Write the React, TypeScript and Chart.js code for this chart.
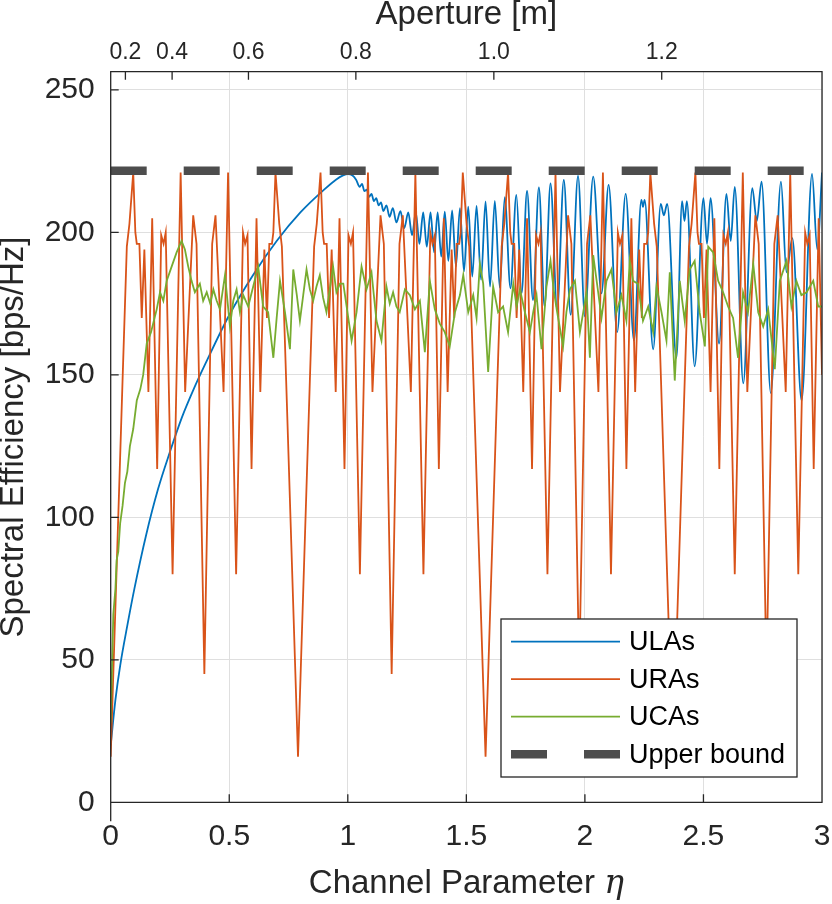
import { useEffect, useRef } from "react";
import { Chart, registerables } from "chart.js";

Chart.register(...registerables);

const FONT = '"Liberation Sans", Arial, Helvetica, sans-serif';
const AXIS = "#262626";
const GRID = "#dfdfdf";

// ULAs (blue)
const ulaEta = [
  0, 0.02, 0.04, 0.07, 0.1, 0.15, 0.2, 0.25, 0.3, 0.35, 0.4, 0.5, 0.6, 0.7, 0.8, 0.9, 0.95,
  0.98, 1.0, 1.02, 1.035, 1.05, 1.06, 1.07, 1.08, 1.09, 1.1, 1.11, 1.12, 1.13, 1.14, 1.15, 1.163, 1.176, 1.19,
  1.205, 1.222, 1.238, 1.255, 1.271, 1.287, 1.302, 1.318, 1.333, 1.349, 1.364, 1.379, 1.394, 1.409, 1.424, 1.44,
  1.456, 1.473, 1.49, 1.508, 1.525, 1.543, 1.562, 1.581, 1.6, 1.62, 1.641, 1.662, 1.686, 1.711, 1.733, 1.756,
  1.781, 1.806, 1.83, 1.855, 1.883, 1.911, 1.94, 1.971, 2.0, 2.035, 2.07, 2.1, 2.136, 2.172, 2.207, 2.238, 2.245,
  2.252, 2.288, 2.32, 2.333, 2.347, 2.386, 2.41, 2.42, 2.43, 2.463, 2.5, 2.515, 2.53, 2.566, 2.597, 2.615, 2.632,
  2.668, 2.706, 2.725, 2.745, 2.784, 2.827, 2.85, 2.875, 2.914, 2.958, 2.98, 3.0,
];
const ulaSE = [
  20, 36, 48, 62, 75, 94, 110, 123, 135, 145, 154, 171, 185, 197, 207, 215, 218.5,
  220, 220.5, 220, 218.5, 216, 217, 214.5, 215, 212.5, 213.5, 211, 212, 209.5, 210.5, 207.5, 209.5, 205.5, 208.5,
  203.5, 207.5, 201.5, 207, 199, 207, 196, 207, 195, 207, 193, 207, 191.5, 207.3, 190, 207.7,
  188, 208.5, 186.3, 209, 184.5, 209.3, 183.4, 210.9, 181, 211.1, 180.6, 212.4, 180.4, 213.2, 178.7, 214.6,
  176.3, 215.8, 174, 217.2, 172.8, 218.4, 171.1, 219.8, 170.5, 219.6, 178.6, 216.7, 165, 213.5, 162, 211.4, 209,
  211.4, 159, 210, 206, 210, 156, 211, 204, 211, 153, 212, 196, 212, 161, 213.5, 197, 216,
  147, 215.5, 204, 217.8, 143.6, 217.8, 186, 198, 141, 220.5, 194, 221,
];

// URAs (orange)
const uraEta = [
  0, 0.05, 0.068, 0.079, 0.095, 0.104, 0.11, 0.121, 0.131, 0.142, 0.159, 0.175, 0.196, 0.213, 0.223, 0.232, 0.261, 0.295, 0.314, 0.348, 0.362,
  0.395, 0.428, 0.442, 0.476, 0.495, 0.529, 0.558, 0.567, 0.577, 0.594, 0.615, 0.631, 0.648, 0.659, 0.669, 0.68, 0.686, 0.695, 0.711, 0.722, 0.74,
  0.79, 0.84, 0.858, 0.869, 0.885, 0.894, 0.9, 0.911, 0.921, 0.932, 0.949, 0.965, 0.986, 1.003, 1.013, 1.022, 1.051, 1.085, 1.104, 1.138, 1.152,
  1.185, 1.218, 1.232, 1.266, 1.285, 1.319, 1.348, 1.357, 1.367, 1.384, 1.405, 1.421, 1.438, 1.449, 1.459, 1.47, 1.476, 1.485, 1.501, 1.512, 1.53,
  1.581, 1.631, 1.649, 1.66, 1.676, 1.685, 1.691, 1.702, 1.712, 1.723, 1.74, 1.756, 1.777, 1.794, 1.804, 1.813, 1.842, 1.876, 1.895, 1.929, 1.943,
  1.976, 2.009, 2.023, 2.057, 2.076, 2.11, 2.139, 2.148, 2.158, 2.175, 2.196, 2.212, 2.229, 2.24, 2.25, 2.261, 2.267, 2.276, 2.292, 2.303, 2.321,
  2.371, 2.421, 2.439, 2.45, 2.466, 2.475, 2.481, 2.492, 2.502, 2.513, 2.53, 2.546, 2.567, 2.584, 2.594, 2.603, 2.632, 2.666, 2.685, 2.719, 2.733,
  2.766, 2.799, 2.813, 2.847, 2.866, 2.9, 2.929, 2.938, 2.948, 2.965, 2.986, 3.0,
];
const uraSE = [
  16, 148, 195, 203, 221, 200, 196, 196, 170, 194, 144, 205, 117, 199, 196, 200, 80, 221, 144, 206, 196,
  45, 196, 206, 144, 221, 80, 200, 196, 199, 117, 205, 144, 194, 170, 196, 196, 200, 221, 203, 195, 148,
  16, 148, 195, 203, 221, 200, 196, 196, 170, 194, 144, 205, 117, 199, 196, 200, 80, 221, 144, 206, 196,
  45, 196, 206, 144, 221, 80, 200, 196, 199, 117, 205, 144, 194, 170, 196, 196, 200, 221, 203, 195, 148,
  16, 148, 195, 203, 221, 200, 196, 196, 170, 194, 144, 205, 117, 199, 196, 200, 80, 221, 144, 206, 196,
  45, 196, 206, 144, 221, 80, 200, 196, 199, 117, 205, 144, 194, 170, 196, 196, 200, 221, 203, 195, 148,
  16, 148, 195, 203, 221, 200, 196, 196, 170, 194, 144, 205, 117, 199, 196, 200, 80, 221, 144, 206, 196,
  45, 196, 206, 144, 221, 80, 200, 196, 199, 117, 205, 150,
];

// UCAs (green)
const ucaEta = [
  0, 0.005, 0.011, 0.02, 0.025, 0.032, 0.04, 0.05, 0.06, 0.07, 0.081, 0.095, 0.11, 0.125, 0.137, 0.152, 0.17, 0.194,
  0.208, 0.222, 0.236, 0.257, 0.278, 0.299, 0.313, 0.327, 0.341, 0.355, 0.376, 0.39, 0.405, 0.42, 0.433, 0.447, 0.461,
  0.482, 0.503, 0.517, 0.531, 0.545, 0.559, 0.58, 0.601, 0.622, 0.643, 0.664, 0.686, 0.7, 0.714, 0.735, 0.756, 0.77,
  0.785, 0.798, 0.812, 0.826, 0.84, 0.854, 0.868, 0.882, 0.896, 0.91, 0.924, 0.938, 0.952, 0.967, 0.981, 0.995, 1.016,
  1.037, 1.058, 1.079, 1.1, 1.121, 1.142, 1.163, 1.177, 1.191, 1.205, 1.219, 1.241, 1.262, 1.283, 1.304, 1.325, 1.346,
  1.367, 1.388, 1.409, 1.43, 1.452, 1.473, 1.487, 1.508, 1.529, 1.543, 1.557, 1.571, 1.592, 1.613, 1.634, 1.655, 1.676,
  1.698, 1.712, 1.726, 1.747, 1.768, 1.782, 1.796, 1.817, 1.838, 1.855, 1.868, 1.881, 1.908, 1.922, 1.937, 1.958, 1.979,
  1.993, 2.007, 2.021, 2.035, 2.056, 2.07, 2.091, 2.112, 2.133, 2.154, 2.175, 2.189, 2.203, 2.224, 2.245, 2.267, 2.288,
  2.302, 2.323, 2.344, 2.358, 2.379, 2.4, 2.421, 2.442, 2.463, 2.484, 2.506, 2.52, 2.541, 2.562, 2.583, 2.604, 2.625,
  2.646, 2.667, 2.688, 2.71, 2.731, 2.752, 2.773, 2.801, 2.822, 2.85, 2.871, 2.892, 2.913, 2.935, 2.963, 2.984, 3.0,
];
const ucaSE = [
  28, 45, 66, 75, 85, 88, 98, 104, 112, 116, 125, 131, 141, 145, 150, 161, 165, 173,
  179, 176, 183, 188, 193, 197, 194, 188, 183, 179, 182, 176, 179, 175, 180, 176, 173,
  185, 167, 176, 180, 172, 178, 174, 181, 188, 174, 172, 156, 170, 183, 172, 159, 187,
  178, 169, 178, 187, 180, 176, 181, 185, 177, 172, 180, 188, 179, 182, 182, 174, 162,
  172, 188, 180, 186, 169, 162, 181, 175, 179, 174, 172, 180, 178, 173, 176, 158, 183,
  173, 168, 165, 160, 172, 178, 185, 172, 178, 170, 189, 182, 151, 181, 172, 174, 165,
  182, 174, 180, 172, 165, 172, 178, 159, 181, 190, 180, 173, 160, 172, 180, 183, 165,
  172, 179, 156, 192, 179, 170, 183, 187, 172, 178, 169, 190, 183, 182, 169, 174, 165,
  181, 172, 162, 186, 148, 183, 169, 187, 190, 172, 160, 195, 193, 183, 179, 174, 170,
  156, 179, 172, 189, 172, 167, 173, 152, 183, 190, 174, 183, 178, 179, 183, 174, 174,
];

const upperBound = 221.6;

// top axis: aperture tick labels and where they sit on the eta axis
const apertureLabels = ["0.2", "0.4", "0.6", "0.8", "1.0", "1.2"];
const apertureEta = [0.062, 0.259, 0.581, 1.034, 1.616, 2.324];

const toXY = (xs: number[], ys: number[]) => xs.map((x, i) => ({ x, y: ys[i] }));

const framePlugin = {
  id: "matlabFrame",
  afterDatasetsDraw(chart: any) {
    const { ctx, chartArea: a, scales } = chart;
    ctx.save();
    ctx.strokeStyle = AXIS;
    ctx.lineWidth = 1.3;
    ctx.beginPath();
    ctx.rect(a.left, a.top, a.right - a.left, a.bottom - a.top);
    ctx.moveTo(a.left, a.bottom);
    ctx.lineTo(a.left, a.bottom + 19);
    for (const t of scales.x.ticks) {
      const p = scales.x.getPixelForValue(t.value);
      ctx.moveTo(p, a.bottom);
      ctx.lineTo(p, a.bottom - 8);
    }
    for (const t of scales.x2.ticks) {
      const p = scales.x2.getPixelForValue(t.value);
      ctx.moveTo(p, a.top);
      ctx.lineTo(p, a.top + 8);
    }
    for (const t of scales.y.ticks) {
      const p = scales.y.getPixelForValue(t.value);
      ctx.moveTo(a.left, p);
      ctx.lineTo(a.left + 8, p);
    }
    ctx.stroke();
    ctx.restore();
  },
};

// x title with an italic eta, like the TeX label in the original
const xTitlePlugin = {
  id: "xTitle",
  afterDraw(chart: any) {
    const { ctx, chartArea: a } = chart;
    const main = "Channel Parameter ";
    const sym = "η";
    ctx.save();
    ctx.fillStyle = AXIS;
    ctx.textBaseline = "alphabetic";
    ctx.textAlign = "left";
    ctx.font = `33px ${FONT}`;
    const w1 = ctx.measureText(main).width;
    ctx.font = `italic 33px "DejaVu Serif", "Liberation Serif", serif`;
    const w2 = ctx.measureText(sym).width;
    const x0 = (a.left + a.right) / 2 - (w1 + w2) / 2;
    const y = a.bottom + 91;
    ctx.font = `33px ${FONT}`;
    ctx.fillText(main, x0, y);
    ctx.font = `italic 33px "DejaVu Serif", "Liberation Serif", serif`;
    ctx.fillText(sym, x0 + w1, y);
    ctx.restore();
  },
};

const legendPlugin = {
  id: "boxLegend",
  afterDraw(chart: any) {
    const { ctx, chartArea: a } = chart;
    const right = a.right - 25;
    const bottom = a.bottom - 25.3;
    const left = right - 296;
    const top = bottom - 158;
    ctx.save();
    ctx.fillStyle = "#ffffff";
    ctx.fillRect(left, top, right - left, bottom - top);
    ctx.strokeStyle = AXIS;
    ctx.lineWidth = 1.3;
    ctx.strokeRect(left, top, right - left, bottom - top);
    chart.data.datasets.forEach((ds: any, i: number) => {
      const y = top + 22.7 + i * 37.5;
      ctx.beginPath();
      ctx.strokeStyle = ds.borderColor;
      ctx.lineWidth = ds.borderWidth;
      ctx.lineCap = "butt";
      ctx.setLineDash(ds.borderDash || []);
      ctx.moveTo(left + 10, y);
      ctx.lineTo(left + 119, y);
      ctx.stroke();
      ctx.setLineDash([]);
      ctx.fillStyle = "#000000";
      ctx.font = `27px ${FONT}`;
      ctx.textAlign = "left";
      ctx.textBaseline = "middle";
      ctx.fillText(ds.label, left + 128, y + 1);
    });
    ctx.restore();
  },
};

const noSidePadding = (s: any) => {
  s.paddingLeft = 0;
  s.paddingRight = 0;
};

export default function App() {
  const canvasRef = useRef<HTMLCanvasElement>(null);
  const chartRef = useRef<Chart | null>(null);

  useEffect(() => {
    document.body.style.margin = "0";
    if (!canvasRef.current) return;
    if (chartRef.current) chartRef.current.destroy();

    chartRef.current = new Chart(canvasRef.current, {
      type: "scatter",
      data: {
        datasets: [
          {
            label: "ULAs",
            data: toXY(ulaEta, ulaSE),
            showLine: true,
            borderColor: "#0072BD",
            borderWidth: 1.8,
            pointRadius: 0,
            cubicInterpolationMode: "monotone",
            order: 4,
          },
          {
            label: "URAs",
            data: toXY(uraEta, uraSE),
            showLine: true,
            borderColor: "#D95319",
            borderWidth: 1.8,
            pointRadius: 0,
            tension: 0,
            order: 3,
          },
          {
            label: "UCAs",
            data: toXY(ucaEta, ucaSE),
            showLine: true,
            borderColor: "#77AC30",
            borderWidth: 1.8,
            pointRadius: 0,
            tension: 0,
            order: 2,
          },
          {
            label: "Upper bound",
            data: [
              { x: 0, y: upperBound },
              { x: 3, y: upperBound },
            ],
            showLine: true,
            borderColor: "#4d4d4d",
            borderWidth: 8.5,
            borderDash: [36, 37],
            borderCapStyle: "butt",
            pointRadius: 0,
            order: 1,
          },
        ] as any,
      },
      options: {
        animation: false,
        responsive: true,
        maintainAspectRatio: false,
        events: [],
        layout: { padding: { left: 0, right: 10, top: 0, bottom: 0 } },
        plugins: {
          legend: { display: false },
          tooltip: { enabled: false },
        },
        scales: {
          x: {
            type: "linear",
            position: "bottom",
            min: 0,
            max: 3,
            afterFit: (s: any) => {
              s.height = 101.7;
              noSidePadding(s);
            },
            grid: { color: GRID, lineWidth: 1, drawTicks: false },
            border: { display: false },
            ticks: {
              stepSize: 0.5,
              padding: 16.4,
              color: AXIS,
              font: { family: FONT, size: 30 },
              maxRotation: 0,
              autoSkip: false,
              callback: (v: any) => `${Number(v)}`,
            },
            title: { display: false },
          },
          x2: {
            type: "linear",
            position: "top",
            min: 0,
            max: 3,
            afterFit: (s: any) => {
              s.height = 71.7;
              noSidePadding(s);
            },
            afterBuildTicks: (s: any) => {
              s.ticks = apertureEta.map((v) => ({ value: v }));
            },
            grid: { display: false, drawTicks: false },
            border: { display: false },
            ticks: {
              padding: 5.2,
              color: AXIS,
              font: { family: FONT, size: 23 },
              maxRotation: 0,
              autoSkip: false,
              callback: (_v: any, i: number) => apertureLabels[i],
            },
            title: {
              display: true,
              text: "Aperture [m]",
              color: AXIS,
              font: { family: FONT, size: 33, lineHeight: 0.92 },
              padding: { top: 0, bottom: 0 },
            },
          },
          y: {
            type: "linear",
            position: "left",
            min: 0,
            max: 256.4,
            afterFit: (s: any) => {
              s.width = 110.7;
              s.paddingTop = 0;
              s.paddingBottom = 0;
            },
            grid: { color: GRID, lineWidth: 1, drawTicks: false },
            border: { display: false },
            ticks: {
              stepSize: 50,
              includeBounds: false,
              padding: 16,
              color: AXIS,
              font: { family: FONT, size: 30 },
            },
            title: {
              display: true,
              text: "Spectral Efficiency [bps/Hz]",
              color: AXIS,
              font: { family: FONT, size: 33, lineHeight: 0.82 },
              padding: { top: 0, bottom: 0 },
            },
          },
        },
      } as any,
      plugins: [framePlugin, xTitlePlugin, legendPlugin],
    });

    return () => {
      chartRef.current?.destroy();
      chartRef.current = null;
    };
  }, []);

  return (
    <div style={{ width: 832, height: 904, position: "relative" }}>
      <canvas ref={canvasRef} />
    </div>
  );
}
